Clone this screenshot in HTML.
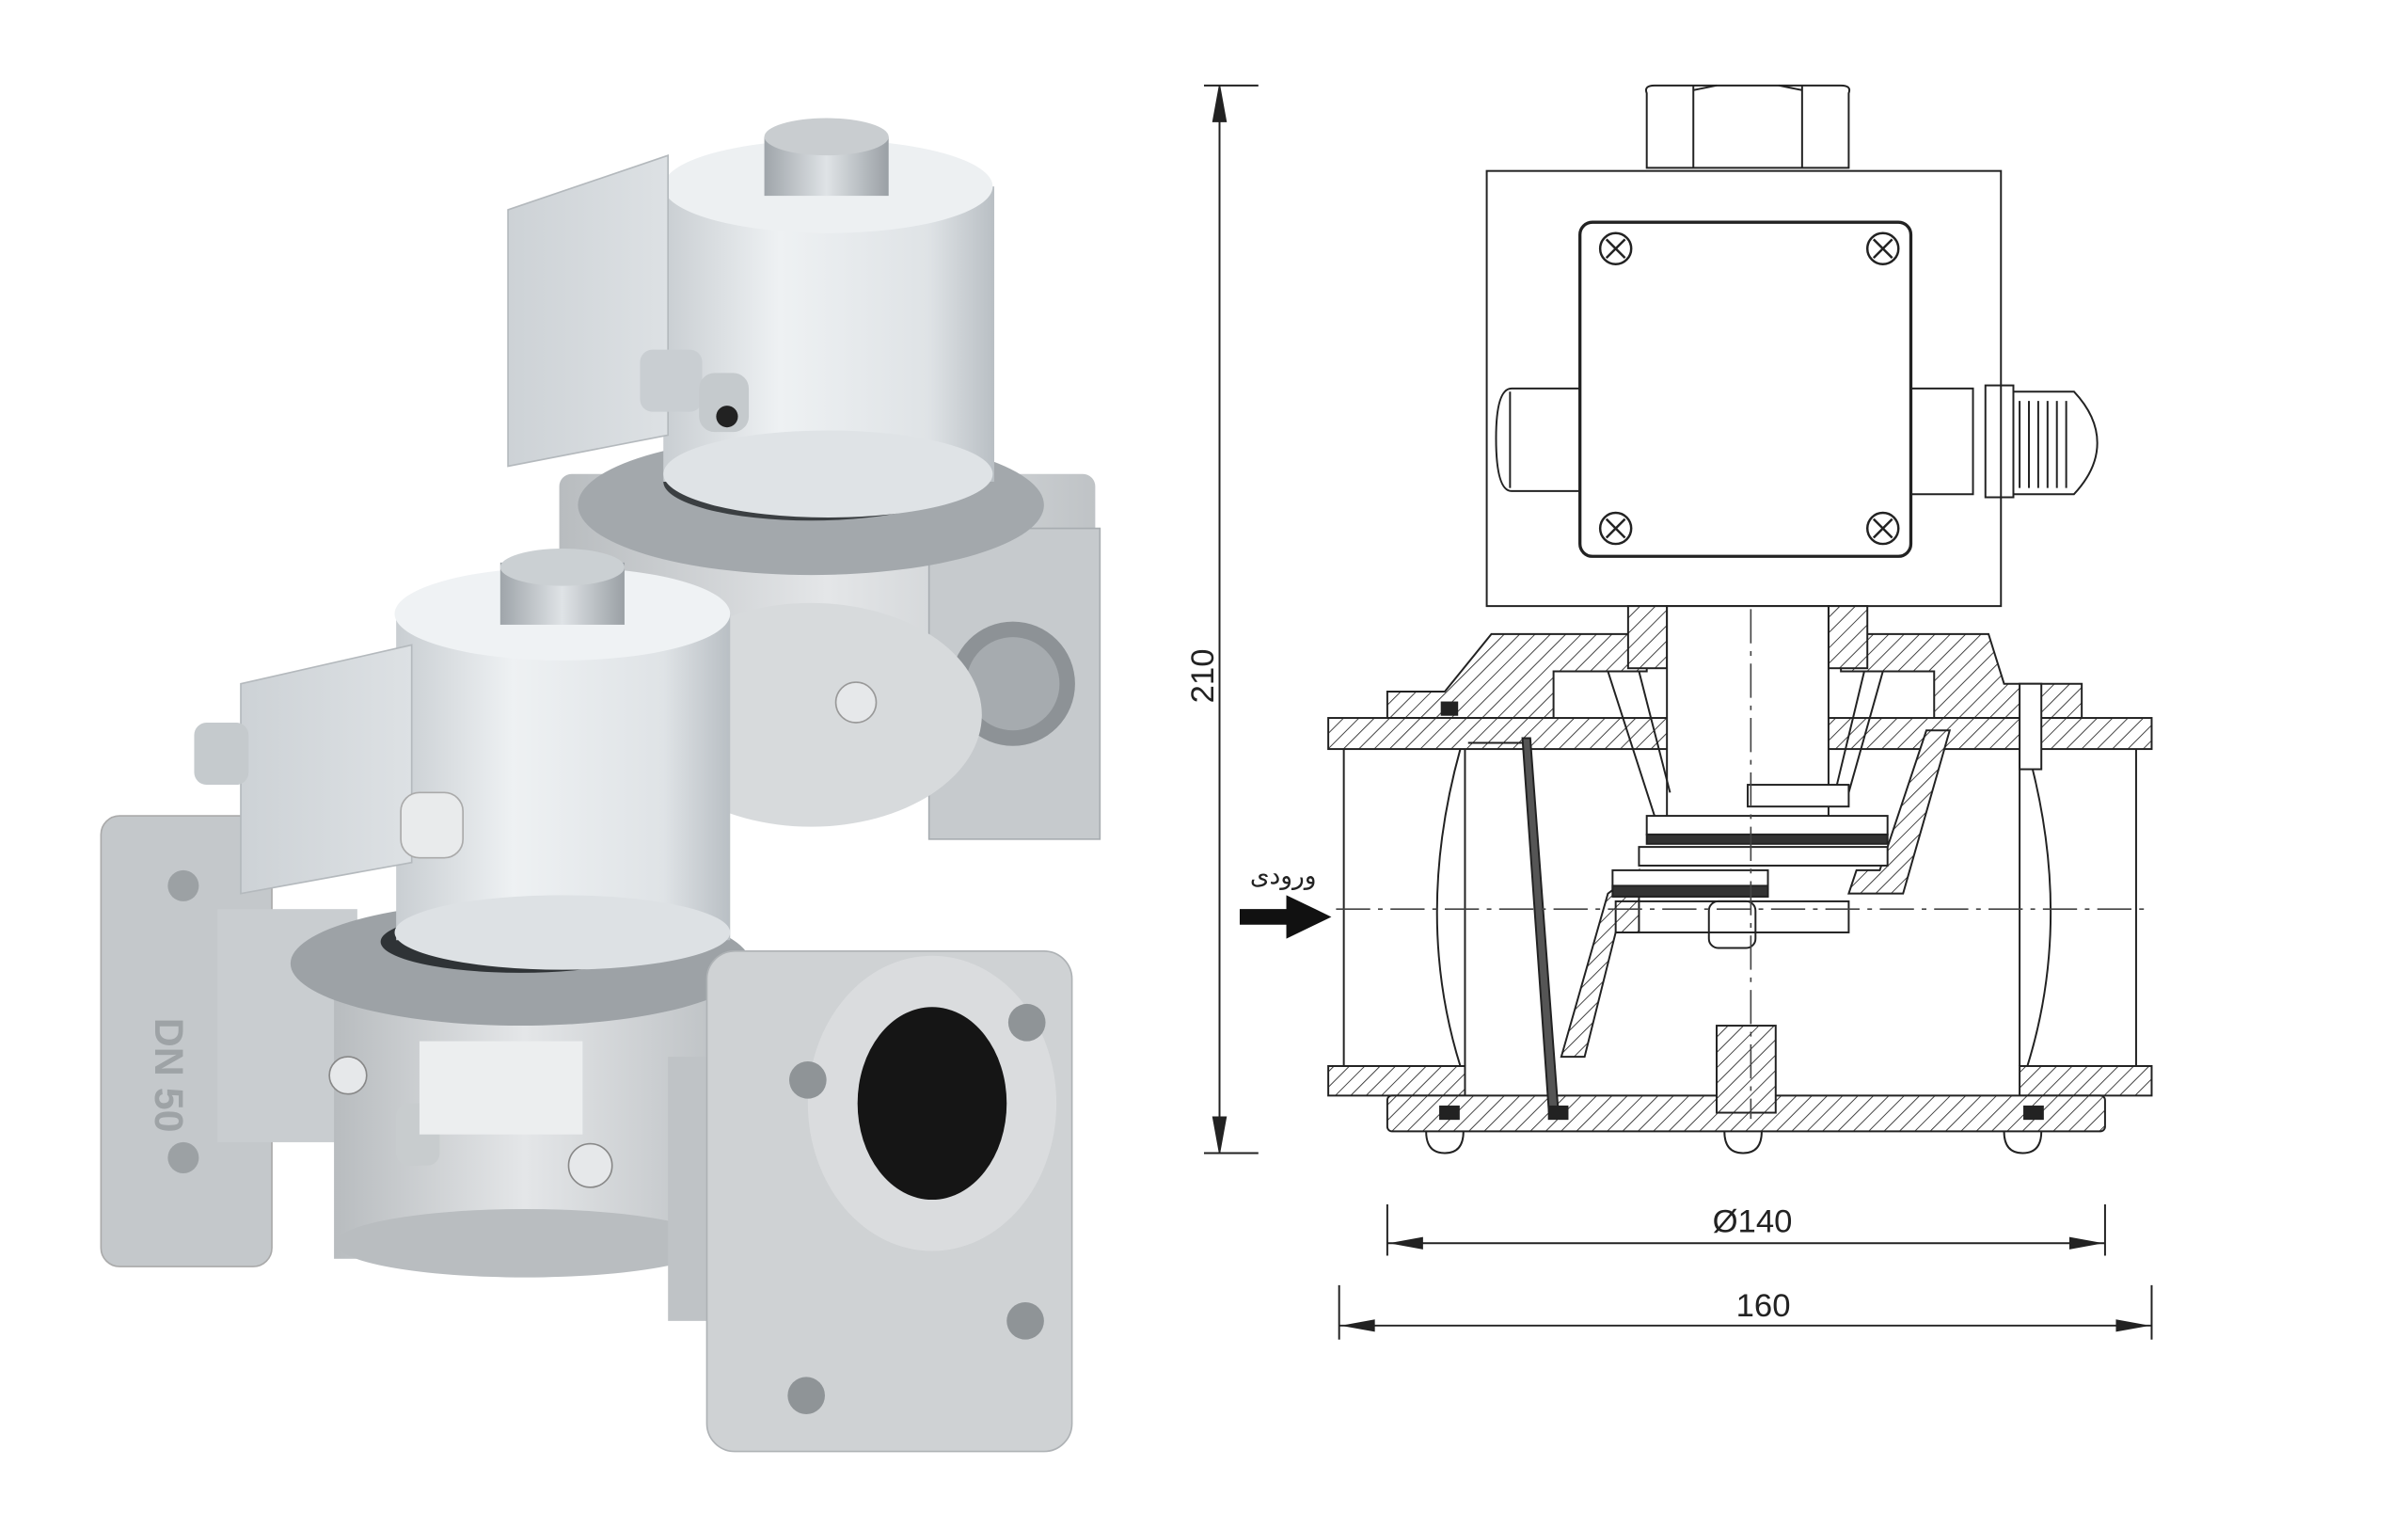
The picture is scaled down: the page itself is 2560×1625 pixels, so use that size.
<!DOCTYPE html>
<html><head><meta charset="utf-8">
<style>
html,body{margin:0;padding:0;background:#fff;width:2560px;height:1625px;overflow:hidden}
svg{display:block}
text{font-family:"Liberation Sans","DejaVu Sans",sans-serif}
</style></head>
<body>
<svg width="2560" height="1625" viewBox="0 0 2560 1625" xmlns="http://www.w3.org/2000/svg">
<defs>
<pattern id="h" patternUnits="userSpaceOnUse" width="7" height="7" patternTransform="rotate(45)">
<rect width="7" height="7" fill="#fff"/><line x1="0" y1="0" x2="0" y2="7" stroke="#333" stroke-width="1.1"/></pattern>
<linearGradient id="cyl" x1="0" x2="1"><stop offset="0" stop-color="#c9ced2"/><stop offset=".35" stop-color="#eef1f3"/><stop offset=".8" stop-color="#dfe3e6"/><stop offset="1" stop-color="#b9bfc4"/></linearGradient>
<linearGradient id="box" x1="0" x2="1"><stop offset="0" stop-color="#cdd2d6"/><stop offset="1" stop-color="#dde1e4"/></linearGradient>
<linearGradient id="al" x1="0" x2="1"><stop offset="0" stop-color="#b8bcbf"/><stop offset=".5" stop-color="#e4e6e8"/><stop offset="1" stop-color="#bfc3c6"/></linearGradient>
<linearGradient id="nut" x1="0" x2="1"><stop offset="0" stop-color="#9fa5aa"/><stop offset=".5" stop-color="#dfe3e6"/><stop offset="1" stop-color="#9aa0a5"/></linearGradient>
</defs>

<g transform="scale(1.6516)">
<!-- ============ PHOTO ============ -->
<!-- back valve -->
<g>
<rect x="360" y="305" width="345" height="205" rx="8" fill="url(#al)"/>
<rect x="598" y="340" width="110" height="200" fill="#c6cacd" stroke="#a8adb1"/>
<circle cx="652" cy="440" r="40" fill="#8d9296"/>
<circle cx="652" cy="440" r="30" fill="#a6abaf"/>
<ellipse cx="522" cy="460" rx="110" ry="72" fill="#d7dadc"/>
<ellipse cx="522" cy="325" rx="150" ry="45" fill="#a3a8ac"/>
<ellipse cx="522" cy="310" rx="95" ry="25" fill="#3b3f42"/>
<rect x="427" y="120" width="213" height="190" fill="url(#cyl)"/>
<ellipse cx="533" cy="305" rx="106" ry="28" fill="#dfe3e6"/>
<ellipse cx="533" cy="120" rx="106" ry="30" fill="#edf0f2"/>
<rect x="492" y="88" width="80" height="38" fill="url(#nut)"/>
<ellipse cx="532" cy="88" rx="40" ry="12" fill="#c9cdd0"/>
<polygon points="327,135 430,100 430,280 327,300" fill="url(#box)" stroke="#b4b9bd"/>
<rect x="412" y="225" width="40" height="40" rx="8" fill="#c9ced2"/>
<rect x="450" y="240" width="32" height="38" rx="10" fill="#c5cacd"/>
<circle cx="468" cy="268" r="7" fill="#222"/>
<circle cx="551" cy="452" r="13" fill="#e6e8ea" stroke="#999"/>
</g>
<!-- front valve -->
<g>
<rect x="65" y="525" width="110" height="290" rx="12" fill="#c4c8cb" stroke="#aaa"/>
<text x="100" y="655" transform="rotate(90 100 655)" font-size="26" fill="#9ea3a6" font-weight="bold">DN 50</text>
<circle cx="118" cy="570" r="10" fill="#9ca1a4"/><circle cx="118" cy="745" r="10" fill="#9ca1a4"/>
<rect x="140" y="585" width="90" height="150" fill="#c9cdd0"/>
<rect x="215" y="630" width="245" height="180" fill="url(#al)"/>
<ellipse cx="338" cy="800" rx="122" ry="22" fill="#b9bdc0"/>
<ellipse cx="335" cy="620" rx="148" ry="40" fill="#9da2a6"/>
<ellipse cx="335" cy="606" rx="90" ry="20" fill="#2f3336"/>
<rect x="255" y="395" width="215" height="210" fill="url(#cyl)"/>
<ellipse cx="362" cy="600" rx="108" ry="24" fill="#dde1e4"/>
<ellipse cx="362" cy="395" rx="108" ry="30" fill="#eff2f4"/>
<rect x="322" y="362" width="80" height="40" fill="url(#nut)"/>
<ellipse cx="362" cy="365" rx="40" ry="12" fill="#cbd0d3"/>
<polygon points="155,440 265,415 265,555 155,575" fill="url(#box)" stroke="#b4b9bd"/>
<rect x="125" y="465" width="35" height="40" rx="8" fill="#c5cacd"/>
<rect x="258" y="510" width="40" height="42" rx="12" fill="#e9ebec" stroke="#aaa"/>
<circle cx="380" cy="750" r="14" fill="#e6e8ea" stroke="#888"/>
<circle cx="224" cy="692" r="12" fill="#e6e8ea" stroke="#888"/>
<rect x="255" y="710" width="28" height="40" rx="8" fill="#c8ccce"/>
<rect x="270" y="670" width="105" height="60" fill="#eceeef"/>
<rect x="430" y="680" width="40" height="170" fill="#bfc3c6"/>
<rect x="455" y="612" width="235" height="322" rx="18" fill="#cfd2d4" stroke="#aeb2b5"/>
<ellipse cx="600" cy="710" rx="80" ry="95" fill="#dadcde"/>
<ellipse cx="600" cy="710" rx="48" ry="62" fill="#151515"/>
<circle cx="520" cy="695" r="12" fill="#8f9497"/><circle cx="661" cy="658" r="12" fill="#8f9497"/>
<circle cx="519" cy="898" r="12" fill="#8f9497"/><circle cx="660" cy="850" r="12" fill="#8f9497"/>
</g>

<!-- ============ DRAWING ============ -->
<g fill="none" stroke="#222" stroke-width="1.2">
<!-- 210 dim -->
<line x1="775" y1="55" x2="810" y2="55"/><line x1="775" y1="742" x2="810" y2="742"/>
<line x1="785" y1="55" x2="785" y2="742"/>
<polygon points="785,56 781,78 789,78" fill="#222"/><polygon points="785,741 781,719 789,719" fill="#222"/>

<!-- nut -->
<path d="M1060,60 Q1058,55 1065,55 L1185,55 Q1192,55 1190,60 L1190,108 L1060,108 Z"/>
<line x1="1090" y1="55" x2="1090" y2="108"/><line x1="1160" y1="55" x2="1160" y2="108"/>
<path d="M1090,58 L1105,55 M1145,55 L1160,58"/>
<!-- box -->
<rect x="957" y="110" width="331" height="280"/>
<rect x="1017" y="143" width="213" height="215" rx="8" stroke-width="2"/>
<g stroke-width="1.5">
<circle cx="1040" cy="160" r="10"/><path d="M1034,154 l12,12 M1046,154 l-12,12"/>
<circle cx="1212" cy="160" r="10"/><path d="M1206,154 l12,12 M1218,154 l-12,12"/>
<circle cx="1040" cy="340" r="10"/><path d="M1034,334 l12,12 M1046,334 l-12,12"/>
<circle cx="1212" cy="340" r="10"/><path d="M1206,334 l12,12 M1218,334 l-12,12"/>
</g>
<path d="M1017,250 L973,250 Q963,250 963,282 Q963,316 973,316 L1017,316"/>
<line x1="972" y1="252" x2="972" y2="314"/>
<path d="M1230,250 L1270,250 L1270,318 L1230,318"/>
<rect x="1278" y="248" width="18" height="72"/>
<path d="M1296,252 L1335,252 Q1350,268 1350,285 Q1350,302 1335,318 L1296,318"/>
<path d="M1300,258 v56 M1306,258 v56 M1312,258 v56 M1318,258 v56 M1324,258 v56 M1330,258 v56"/>

<!-- body hatched parts -->
<g fill="url(#h)">
<rect x="855" y="462" width="530" height="20"/>
<rect x="855" y="686" width="88" height="19"/>
<rect x="1300" y="686" width="85" height="19"/>
<rect x="893" y="705" width="462" height="23" rx="3"/>
<path d="M893,462 L893,445 L930,445 L960,408 L1060,408 L1060,432 L1000,432 L1000,462 Z"/>
<path d="M1185,408 L1280,408 L1290,440 L1340,440 L1340,462 L1245,462 L1245,432 L1185,432 Z"/>
<path d="M1240,470 L1255,470 L1225,575 L1190,575 L1195,560 L1210,560 Z"/>
<path d="M1055,560 L1035,575 L1005,680 L1020,680 L1040,600 L1055,600 Z"/>
<rect x="1105" y="660" width="38" height="56"/>
<rect x="1048" y="390" width="25" height="40"/><rect x="1177" y="390" width="25" height="40"/>
</g>
<line x1="865" y1="482" x2="865" y2="686"/>
<line x1="1375" y1="482" x2="1375" y2="686"/>
<path d="M940,482 Q910,590 940,686"/><path d="M1305,482 Q1335,590 1305,686"/>
<path d="M943,482 L943,686"/><path d="M1300,482 L1300,686"/>
<polygon points="980,475 985,475 1003,715 997,715" fill="#555"/>
<line x1="945" y1="478" x2="980" y2="478"/>
<!-- stem -->
<rect x="1073" y="390" width="104" height="140" fill="#fff"/>
<line x1="1055" y1="432" x2="1075" y2="510"/><line x1="1212" y1="432" x2="1190" y2="510"/>
<line x1="1035" y1="432" x2="1065" y2="525"/><line x1="1200" y1="432" x2="1180" y2="515"/>
<!-- discs -->
<rect x="1125" y="505" width="65" height="14" fill="#fff"/>
<rect x="1060" y="525" width="155" height="12" fill="#fff"/>
<rect x="1060" y="537" width="155" height="6" fill="#333"/>
<rect x="1055" y="545" width="160" height="12" fill="#fff"/>
<rect x="1038" y="560" width="100" height="12" fill="#fff"/>
<rect x="1038" y="570" width="100" height="7" fill="#333"/>
<rect x="1100" y="580" width="30" height="30" rx="6" fill="#fff"/>
<rect x="1040" y="580" width="150" height="20" fill="none"/>
<!-- right bolt -->
<rect x="1300" y="440" width="14" height="55" fill="#fff"/>
<!-- bottom bolts -->
<path d="M918,728 q0,14 12,14 q12,0 12,-14"/><path d="M1110,728 q0,14 12,14 q12,0 12,-14"/><path d="M1290,728 q0,14 12,14 q12,0 12,-14"/>
<rect x="927" y="712" width="12" height="8" fill="#222"/><rect x="997" y="712" width="12" height="8" fill="#222"/><rect x="1303" y="712" width="12" height="8" fill="#222"/>
<rect x="928" y="452" width="10" height="8" fill="#222"/>
</g>
<!-- center lines -->
<g stroke="#444" stroke-width="1" stroke-dasharray="22,5,3,5" fill="none">
<line x1="1127" y1="392" x2="1127" y2="720"/>
<line x1="860" y1="585" x2="1385" y2="585"/>
</g>
<!-- inlet arrow -->
<polygon points="798,585 828,585 828,576 857,590 828,604 828,595 798,595" fill="#111"/>
<text x="826" y="569" font-size="16" text-anchor="middle" fill="#222" font-family="'Liberation Sans','DejaVu Sans',sans-serif">ورودی</text>
<!-- 140 dim -->
<g stroke="#222" stroke-width="1.2" fill="none">
<line x1="893" y1="775" x2="893" y2="808"/><line x1="1355" y1="775" x2="1355" y2="808"/>
<line x1="893" y1="800" x2="1355" y2="800"/>
<line x1="862" y1="827" x2="862" y2="862"/><line x1="1385" y1="827" x2="1385" y2="862"/>
<line x1="862" y1="853" x2="1385" y2="853"/>
</g>
<polygon points="894,800 916,796 916,804" fill="#222"/><polygon points="1354,800 1332,796 1332,804" fill="#222"/>
<polygon points="863,853 885,849 885,857" fill="#222"/><polygon points="1384,853 1362,849 1362,857" fill="#222"/>
<text x="1128" y="793" font-size="21" text-anchor="middle" fill="#222">Ø140</text>
<text x="1135" y="847" font-size="21" text-anchor="middle" fill="#222">160</text>
<text x="781" y="435" font-size="21" text-anchor="middle" fill="#222" transform="rotate(-90 781 435)">210</text>
</g>
</svg>
</body></html>
